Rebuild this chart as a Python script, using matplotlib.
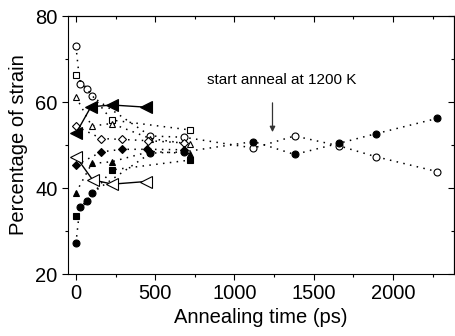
import matplotlib
matplotlib.use("Agg")
import matplotlib.pyplot as plt
from matplotlib.ticker import MultipleLocator

plt.rcParams['font.family'] = ['Liberation Sans', 'DejaVu Sans']

# ---- data (time in ps, percentage of strain) ----
oc_x = [0, 25, 70, 100, 470, 680, 1120, 1380, 1660, 1890, 2280]
oc_y = [73.0, 64.3, 63.0, 61.3, 52.1, 51.8, 49.3, 52.1, 49.8, 47.3, 43.8]
fc_x = [0, 25, 70, 100, 470, 680, 1120, 1380, 1660, 1890, 2280]
fc_y = [27.1, 35.6, 37.0, 38.8, 48.1, 48.4, 50.8, 47.8, 50.4, 52.6, 56.2]

os_x = [0, 225, 720]
os_y = [66.3, 55.8, 53.5]
fs_x = [0, 225, 720]
fs_y = [33.5, 44.2, 46.5]

ot_x = [0, 100, 225, 470, 720]
ot_y = [61.2, 54.4, 55.0, 51.5, 50.2]
ft_x = [0, 100, 225, 470, 720]
ft_y = [38.9, 45.7, 46.1, 48.5, 48.0]

od_x = [0, 160, 290, 455, 680]
od_y = [54.4, 51.5, 51.3, 51.0, 50.5]
fd_x = [0, 160, 290, 450, 680]
fd_y = [45.3, 48.4, 49.0, 49.0, 48.9]

fl_x = [0, 95, 230, 440]
fl_y = [52.7, 58.9, 59.3, 58.8]
ol_x = [0, 105, 230, 440]
ol_y = [47.3, 41.9, 40.9, 41.5]

fig = plt.figure(figsize=(4.55, 3.36), dpi=100)
ax = fig.add_axes([68/455, 1-274/336, (454-68)/455, (274-16)/336])

dot = dict(color='black', linestyle=(0, (1, 3.5)), linewidth=1.1)
mk = dict(markersize=5.0, markeredgewidth=0.8, markeredgecolor='black')

ax.plot(oc_x, oc_y, marker='o', markerfacecolor='white', **dot, **mk)
ax.plot(fc_x, fc_y, marker='o', markerfacecolor='black', **dot, **mk)
ax.plot(os_x, os_y, marker='s', markerfacecolor='white', **dot, **mk)
ax.plot(fs_x, fs_y, marker='s', markerfacecolor='black', **dot, **mk)
ax.plot(ot_x, ot_y, marker='^', markerfacecolor='white', **dot, **mk)
ax.plot(ft_x, ft_y, marker='^', markerfacecolor='black', **dot, **mk)
ax.plot(od_x, od_y, marker='D', markerfacecolor='white', **dot, markersize=4.5,
        markeredgewidth=0.8, markeredgecolor='black')
ax.plot(fd_x, fd_y, marker='D', markerfacecolor='black', **dot, markersize=4.5,
        markeredgewidth=0.8, markeredgecolor='black')

ax.plot(fl_x, fl_y, marker='<', color='black', linewidth=1.0, markersize=8,
        markerfacecolor='black', markeredgecolor='black', markeredgewidth=0.8)
ax.plot(ol_x, ol_y, marker='<', color='black', linewidth=1.0, markersize=8,
        markerfacecolor='white', markeredgecolor='black', markeredgewidth=0.8)

ax.annotate('', xy=(1240, 53.0), xytext=(1240, 59.8),
            arrowprops=dict(arrowstyle='-|>', color='#333333', lw=0.9,
                            mutation_scale=8, shrinkA=0, shrinkB=0))
ax.text(824, 65.1, 'start anneal at 1200 K', fontsize=11, va='center', ha='left')

ax.set_xlim(-50, 2385)
ax.set_ylim(20, 80)
ax.xaxis.set_major_locator(MultipleLocator(500))
ax.xaxis.set_minor_locator(MultipleLocator(250))
ax.yaxis.set_major_locator(MultipleLocator(20))
ax.yaxis.set_minor_locator(MultipleLocator(10))
ax.tick_params(axis='both', which='major', labelsize=14.5, length=4, width=0.8,
               direction='out', top=False, right=False)
ax.tick_params(axis='both', which='minor', length=2.5, width=0.8, direction='out',
               top=False, right=False)
for sp in ax.spines.values():
    sp.set_linewidth(0.8)

# mirrored inward ticks on top/right
axt = ax.secondary_xaxis('top')
axt.xaxis.set_major_locator(MultipleLocator(500))
axt.xaxis.set_minor_locator(MultipleLocator(250))
axt.tick_params(which='major', direction='in', length=4, width=0.8, labeltop=False)
axt.tick_params(which='minor', direction='in', length=2.5, width=0.8)
axr = ax.secondary_yaxis('right')
axr.yaxis.set_major_locator(MultipleLocator(20))
axr.yaxis.set_minor_locator(MultipleLocator(10))
axr.tick_params(which='major', direction='in', length=4, width=0.8, labelright=False)
axr.tick_params(which='minor', direction='in', length=2.5, width=0.8)

ax.set_xlabel('Annealing time (ps)', fontsize=14.5, labelpad=3)
ax.set_ylabel('Percentage of strain', fontsize=14.5, labelpad=5)

fig.savefig('out.png', dpi=100)
